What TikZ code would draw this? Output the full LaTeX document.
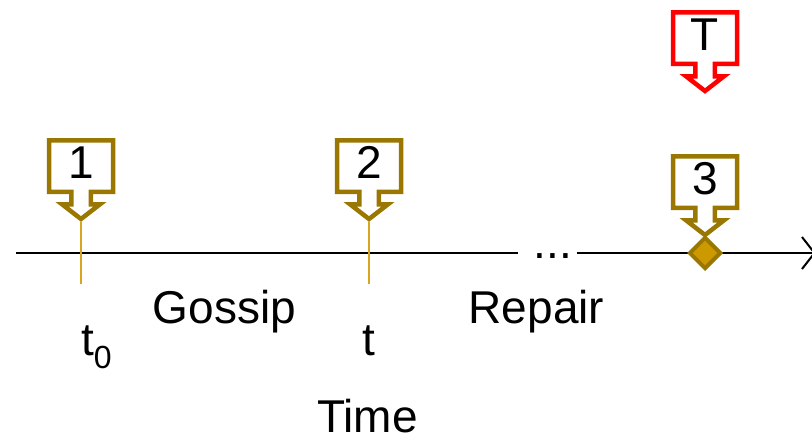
\documentclass[tikz,border=0pt]{standalone}
\usepackage{fontspec}
\usetikzlibrary{shapes.geometric}
\setmainfont{Liberation Sans}
\definecolor{goldline}{HTML}{997700}
\definecolor{goldfill}{HTML}{CC9900}
\definecolor{goldtick}{HTML}{D9A520}
\definecolor{redline}{HTML}{FF0000}
\newcommand\mycallout[5]{%
  \draw[callout line, draw=#3] (#1-32,#2+2.25) -- (#1+32,#2+2.25) -- (#1+32,#2+53.75)
    -- (#1+9.75,#2+53.75) -- (#1+9.75,#2+66.25) -- (#1+19,#2+66.25) -- (#1,#2+81)
    -- (#1-19,#2+66.25) -- (#1-9.75,#2+66.25) -- (#1-9.75,#2+53.75) -- (#1-32,#2+53.75) -- cycle;
  \node[lbl, anchor=base] (#5) at (#1,#2+40) {#4};
  \coordinate (#5tip) at (#1,#2+84);
}
\begin{document}
\begin{tikzpicture}[x=1pt,y=-1pt,
  callout line/.style={line width=4.5pt, miter limit=10, fill=white},
  lbl/.style={inner sep=0pt, font=\fontsize{46}{48}\selectfont},
  axis line/.style={line width=2pt, black},
  tick line/.style={line width=2pt, goldtick},
  marker/.style={diamond, draw=goldline, fill=goldfill, line width=4pt,
    minimum width=32pt, minimum height=32pt, inner sep=0pt, aspect=1}]
\useasboundingbox (0,0) rectangle (812,437);
% axis
\coordinate (axL) at (16,253);
\coordinate (axM1) at (518,253);
\coordinate (axM2) at (577,253);
\coordinate (axR) at (814.5,253);
\coordinate (arU) at (802,237);
\coordinate (arD) at (802,269);
\draw[axis line] (axL) -- (axM1);
\draw[axis line] (axM2) -- (axR);
\draw[line width=2pt, miter limit=10] (arU) -- (axR) -- (arD);
\node[lbl, anchor=base] (dots) at (553,258) {...};
% ticks
\coordinate (b1) at (81,284);
\coordinate (b2) at (369,284);
% callouts
\mycallout{81}{138}{goldline}{1}{c1}
\mycallout{369}{138}{goldline}{2}{c2}
\mycallout{705}{154}{goldline}{3}{c3}
\mycallout{705}{10}{redline}{T}{cT}
\draw[tick line] (c1tip) -- (b1);
\draw[tick line] (c2tip) -- (b2);
\node[marker] (d3) at (705,253) {};
% labels
\node[lbl, anchor=base west] (t0) at (81,355) {t\raisebox{-13pt}{\fontsize{32}{32}\selectfont 0}};
\node[lbl, anchor=base] (gossip) at (224.5,323) {Gossip};
\node[lbl, anchor=base] (t) at (369,355) {t};
\node[lbl, anchor=base] (repair) at (536.5,323) {Repair};
\node[lbl, anchor=base] (time) at (367.5,432) {Time};
\end{tikzpicture}
\end{document}
